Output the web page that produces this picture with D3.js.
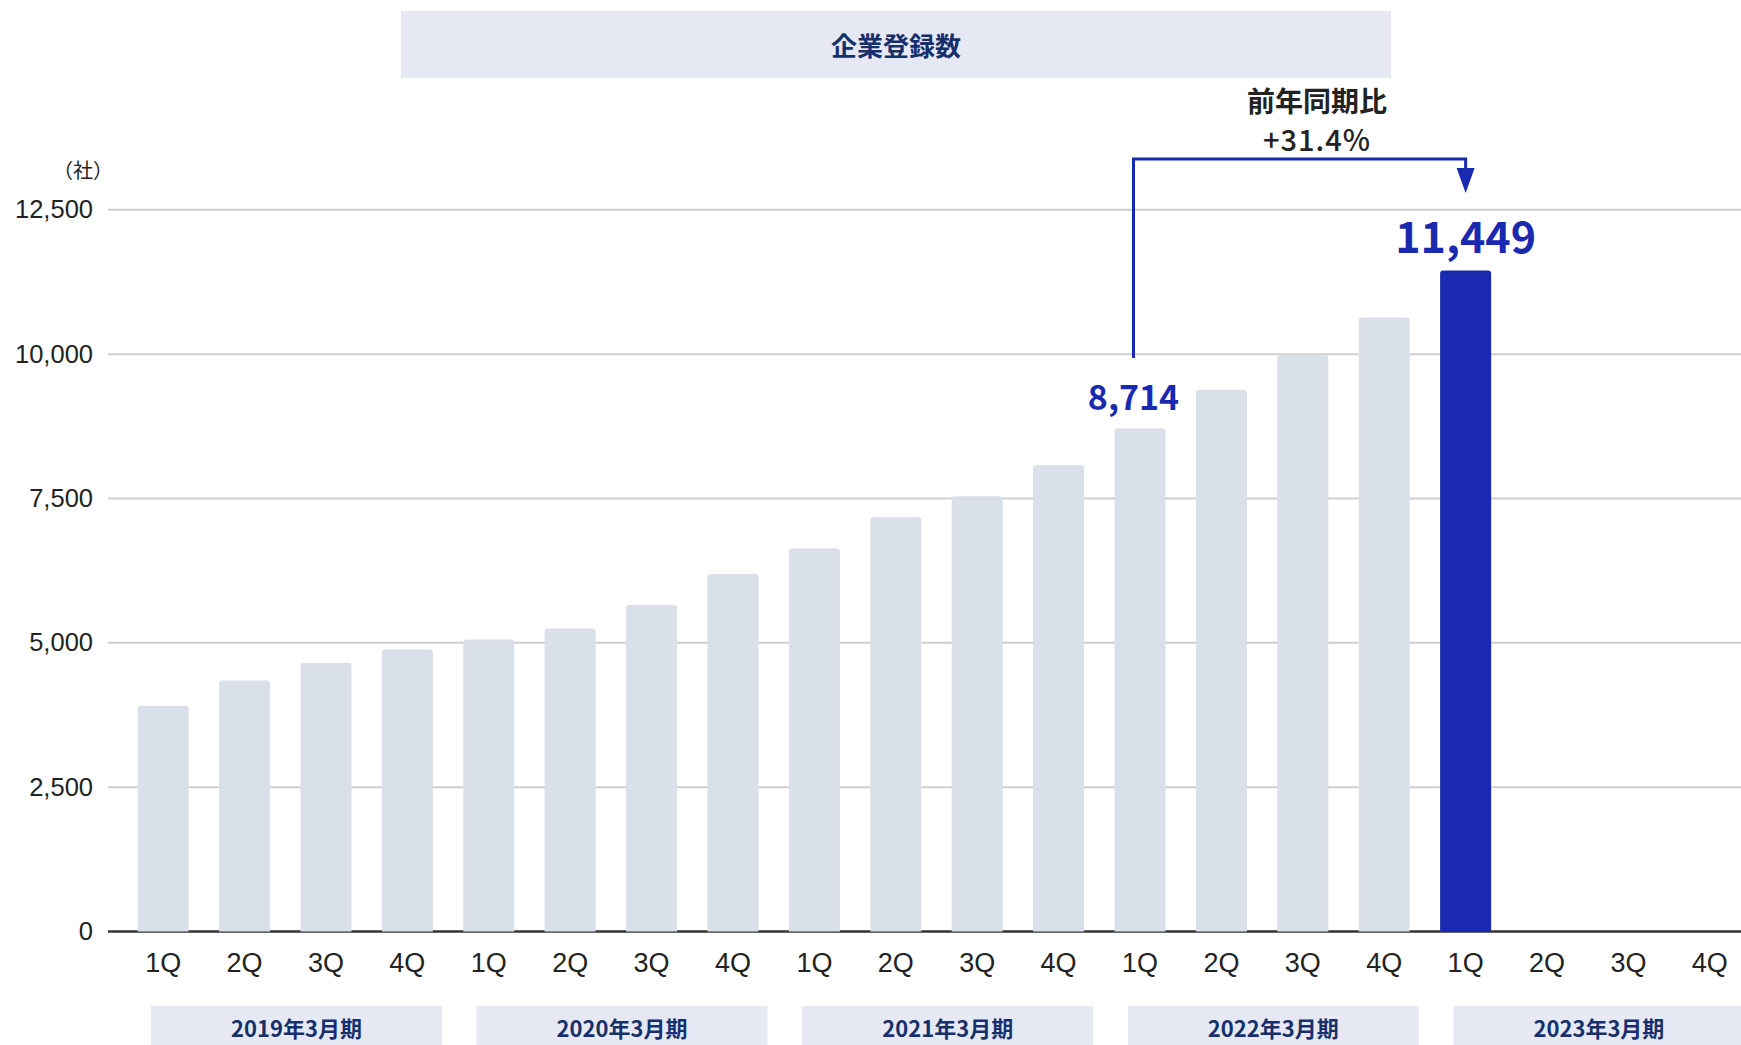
<!DOCTYPE html>
<html><head><meta charset="utf-8">
<script src="https://cdn.jsdelivr.net/npm/d3@7"></script>
<style>
html,body{margin:0;padding:0;background:#fff;}
svg{display:block;}
</style></head>
<body>
<svg id="chart" width="1741" height="1045"></svg>
<script>
const quarters = ["1Q","2Q","3Q","4Q","1Q","2Q","3Q","4Q","1Q","2Q","3Q","4Q","1Q","2Q","3Q","4Q","1Q","2Q","3Q","4Q"];
const values = [3904,4346,4654,4885,5058,5250,5654,6192,6635,7173,7538,8077,8714,9385,9981,10635,11449,null,null,null];
const fiscalYears = ["2019年3月期","2020年3月期","2021年3月期","2022年3月期","2023年3月期"];
const yTicks = [0,2500,5000,7500,10000,12500];
const title = "企業登録数";
const unitLabel = "（社）";
const compareFrom = 12, compareTo = 16;
const compareText = ["前年同期比","+31.4%"];

const svg = d3.select("#chart");
const left = 108, right = 1741;
const x = d3.scaleBand().domain(d3.range(quarters.length)).range([122.5, 1750.5]).paddingInner(0.373).paddingOuter(0.186);
const y = d3.scaleLinear().domain([0,12500]).range([931.5, 209.8]);

const cjk = "'Noto Sans CJK JP','Noto Sans',sans-serif";
const latin = "'Liberation Sans',Arial,sans-serif";
const blue = "#1a2ab0";
const navy = "#15306b";

// title box
svg.append("rect").attr("x",401).attr("y",11).attr("width",990).attr("height",67).attr("fill","#e6e9f4");
svg.append("text").attr("x",896).attr("y",44).attr("text-anchor","middle").attr("dominant-baseline","central")
  .attr("font-family",cjk).attr("font-weight",700).attr("font-size",26).attr("fill",navy).text(title);

// unit
svg.append("text").attr("x",113).attr("y",169).attr("text-anchor","end").attr("dominant-baseline","central")
  .attr("font-family",cjk).attr("font-size",20).attr("fill","#222").text(unitLabel);

// gridlines
svg.append("g").selectAll("line").data(yTicks.filter(d=>d>0)).join("line")
  .attr("x1",left).attr("x2",right).attr("y1",d=>y(d)).attr("y2",d=>y(d))
  .attr("stroke","#cfcfcf").attr("stroke-width",2);

// y axis labels
const yAxis = d3.axisLeft(y).tickValues(yTicks).tickFormat(d3.format(",")).tickSize(0).tickPadding(0);
const ga = svg.append("g").attr("transform",`translate(93,0)`).call(yAxis);
ga.select(".domain").remove();
ga.selectAll("text").attr("font-family",latin).attr("font-size",25.5).attr("fill","#222");

// baseline
svg.append("line").attr("x1",left).attr("x2",right).attr("y1",y(0)).attr("y2",y(0))
  .attr("stroke","#333").attr("stroke-width",2.5);

// bars
const bw = x.bandwidth();
svg.append("g").selectAll("path").data(values.map((v,i)=>({v,i})).filter(d=>d.v!=null)).join("path")
  .attr("d",d=>{
    const x0 = x(d.i), y0 = y(d.v), y1 = y(0), r = 3;
    return `M${x0},${y1}V${y0+r}Q${x0},${y0} ${x0+r},${y0}H${x0+bw-r}Q${x0+bw},${y0} ${x0+bw},${y0+r}V${y1}Z`;
  })
  .attr("fill",d=>d.i===compareTo?blue:"#d9e0ea");

// x labels
const xAxis = d3.axisBottom(x).tickFormat(i=>quarters[i]).tickSize(0).tickPadding(0);
const gx = svg.append("g").attr("transform",`translate(0,963)`).call(xAxis);
gx.select(".domain").remove();
gx.selectAll("text").attr("font-family",latin).attr("font-size",27).attr("fill","#222").attr("dy","0.35em").attr("y",0);

// fiscal year boxes
const fy = svg.append("g");
fiscalYears.forEach((label,g)=>{
  const bs = x(g*4) - x.step()*x.paddingInner()/2;
  const bx = bs + 28.5;
  const bwid = 291;
  fy.append("rect").attr("x",bx).attr("y",1006).attr("width",bwid).attr("height",45).attr("fill","#e6e9f4");
  fy.append("text").attr("x",bx+bwid/2).attr("y",1027).attr("text-anchor","middle").attr("dominant-baseline","central")
    .attr("font-family",cjk).attr("font-weight",700).attr("font-size",22).attr("fill",navy).text(label);
});

// value labels
const cx = i => x(i)+bw/2;
const fromX = cx(compareFrom) - 6.5;
svg.append("text").attr("x",fromX).attr("y",395).attr("text-anchor","middle").attr("dominant-baseline","central")
  .attr("font-family",cjk).attr("font-weight",700).attr("font-size",34).attr("fill",blue)
  .text(d3.format(",")(values[compareFrom]));
svg.append("text").attr("x",cx(compareTo)).attr("y",234).attr("text-anchor","middle").attr("dominant-baseline","central")
  .attr("font-family",cjk).attr("font-weight",700).attr("font-size",43).attr("fill",blue)
  .text(d3.format(",")(values[compareTo]));

// bracket arrow
const by = 159;
svg.append("path").attr("d",`M${fromX},358V${by}H${cx(compareTo)}V176`)
  .attr("fill","none").attr("stroke",blue).attr("stroke-width",3);
svg.append("path").attr("d",`M${cx(compareTo)-9},168L${cx(compareTo)+9},168L${cx(compareTo)},193Z`).attr("fill",blue);

// compare text
const mid = 1317;
svg.append("text").attr("x",mid).attr("y",100).attr("text-anchor","middle").attr("dominant-baseline","central")
  .attr("font-family",cjk).attr("font-weight",700).attr("font-size",28).attr("fill","#222").text(compareText[0]);
svg.append("text").attr("x",mid).attr("y",138).attr("text-anchor","middle").attr("dominant-baseline","central")
  .attr("font-family",cjk).attr("font-weight",500).attr("font-size",29).attr("letter-spacing",1).attr("fill","#222").text(compareText[1]);
</script>
</body></html>
